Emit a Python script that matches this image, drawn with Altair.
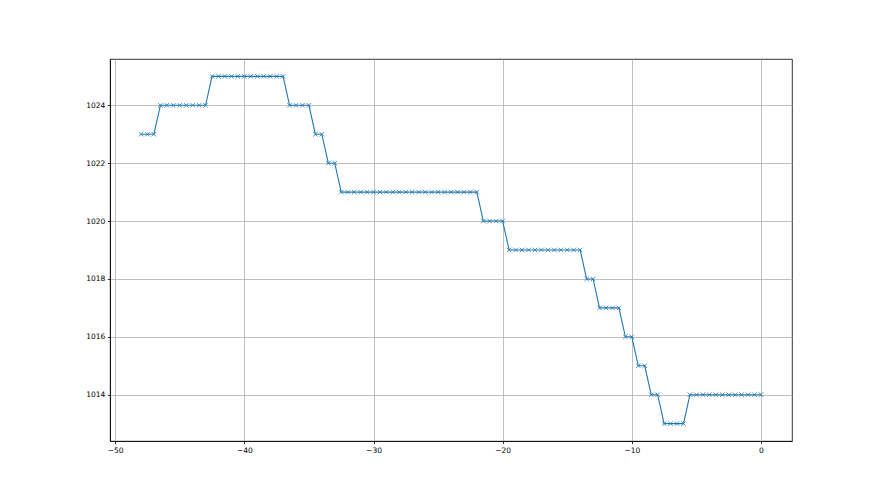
import altair as alt
import pandas as pd

hours = [
    -48.0, -47.5, -47.0, -46.5, -46.0, -45.5, -45.0, -44.5, -44.0, -43.5,
    -43.0, -42.5, -42.0, -41.5, -41.0, -40.5, -40.0, -39.5, -39.0, -38.5,
    -38.0, -37.5, -37.0, -36.5, -36.0, -35.5, -35.0, -34.5, -34.0, -33.5,
    -33.0, -32.5, -32.0, -31.5, -31.0, -30.5, -30.0, -29.5, -29.0, -28.5,
    -28.0, -27.5, -27.0, -26.5, -26.0, -25.5, -25.0, -24.5, -24.0, -23.5,
    -23.0, -22.5, -22.0, -21.5, -21.0, -20.5, -20.0, -19.5, -19.0, -18.5,
    -18.0, -17.5, -17.0, -16.5, -16.0, -15.5, -15.0, -14.5, -14.0, -13.5,
    -13.0, -12.5, -12.0, -11.5, -11.0, -10.5, -10.0, -9.5, -9.0, -8.5,
    -8.0, -7.5, -7.0, -6.5, -6.0, -5.5, -5.0, -4.5, -4.0, -3.5,
    -3.0, -2.5, -2.0, -1.5, -1.0, -0.5, 0.0,
]

pressure = [
    1023, 1023, 1023,
    1024, 1024, 1024, 1024, 1024, 1024, 1024, 1024,
    1025, 1025, 1025, 1025, 1025, 1025, 1025, 1025, 1025, 1025, 1025, 1025,
    1024, 1024, 1024, 1024,
    1023, 1023,
    1022, 1022,
    1021, 1021, 1021, 1021, 1021, 1021, 1021, 1021, 1021, 1021, 1021,
    1021, 1021, 1021, 1021, 1021, 1021, 1021, 1021, 1021, 1021, 1021,
    1020, 1020, 1020, 1020,
    1019, 1019, 1019, 1019, 1019, 1019, 1019, 1019, 1019, 1019, 1019, 1019,
    1018, 1018,
    1017, 1017, 1017, 1017,
    1016, 1016,
    1015, 1015,
    1014, 1014,
    1013, 1013, 1013, 1013,
    1014, 1014, 1014, 1014, 1014, 1014, 1014, 1014, 1014, 1014, 1014, 1014,
]

x_ticks = [-50, -40, -30, -20, -10, 0]
y_ticks = [1014, 1016, 1018, 1020, 1022, 1024]

df = pd.DataFrame({"hours": hours, "pressure": pressure})

axis_common = dict(
    grid=True,
    gridColor="#b0b0b0",
    gridWidth=0.8,
    domainColor="#000000",
    domainWidth=0.8,
    tickColor="#000000",
    tickWidth=0.8,
    tickSize=2.6,
    labelPadding=2.6,
    labelFont="DejaVu Sans",
    labelFontSize=7.5,
    labelColor="#000000",
    title=None,
)

x_enc = alt.X(
    "hours:Q",
    scale=alt.Scale(domain=[-50.4, 2.4], nice=False, zero=False),
    axis=alt.Axis(values=x_ticks, format="d", **axis_common),
)
y_enc = alt.Y(
    "pressure:Q",
    scale=alt.Scale(domain=[1012.4, 1025.6], nice=False, zero=False),
    axis=alt.Axis(values=y_ticks, format="d", **axis_common),
)

base = alt.Chart(df).encode(x=x_enc, y=y_enc)

line = base.mark_line(color="#1f77b4", strokeWidth=1.1)
points = base.mark_point(
    shape="M-1,-1L1,1M-1,1L1,-1",
    size=20,
    filled=False,
    color="#1f77b4",
    strokeWidth=0.8,
    opacity=1,
)

chart = (
    alt.layer(line, points)
    .properties(
        width=682,
        height=382,
        autosize=alt.AutoSizeParams(type="none"),
        padding={"left": 102, "top": 51, "right": 10, "bottom": 40},
        background="white",
    )
    .configure_view(stroke="#000000", strokeWidth=0.8)
)

chart.save("out.html", embed_options={"renderer": "svg", "actions": False})
